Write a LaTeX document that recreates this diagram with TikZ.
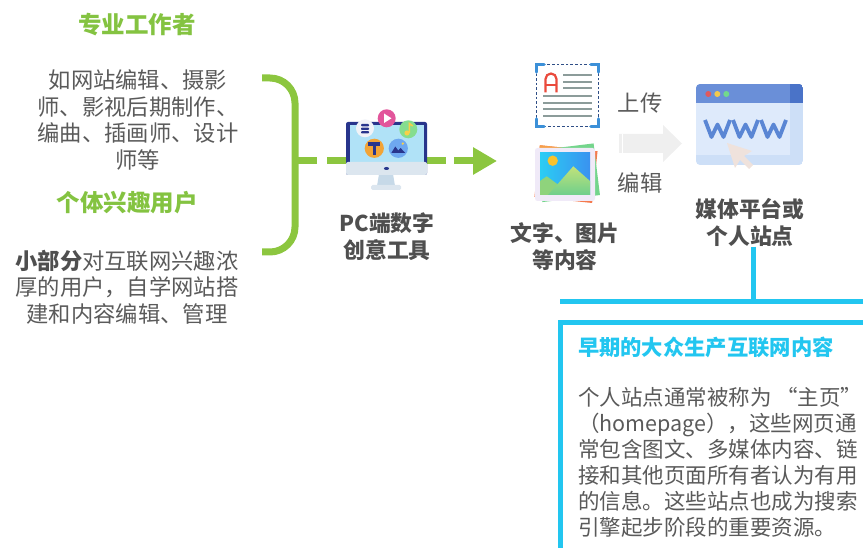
\documentclass[tikz,border=0pt]{standalone}
\usepackage{fontspec}
\setmainfont{Noto Sans CJK SC}
\usetikzlibrary{arrows.meta}

\definecolor{leafgreen}{HTML}{8CC63F}
\definecolor{headgreen}{HTML}{84C341}
\definecolor{bodygray}{HTML}{5A5A5A}
\definecolor{inkgray}{HTML}{4F4F4F}
\definecolor{skycyan}{HTML}{22C6F0}
\definecolor{navy}{HTML}{28358C}
\definecolor{screenblue}{HTML}{B0E2F7}
\definecolor{bezel}{HTML}{DCE6EF}
\definecolor{neckblue}{HTML}{C6D9E8}
\definecolor{docblue}{HTML}{2F4E86}
\definecolor{cornerblue}{HTML}{3C90D8}
\definecolor{linegray}{HTML}{8C9C9A}
\definecolor{letterred}{HTML}{EA4A3C}
\definecolor{arrowgray}{HTML}{EFEFEF}
\definecolor{barblue}{HTML}{6A8FD8}
\definecolor{bardark}{HTML}{4A73C8}
\definecolor{winbody}{HTML}{CDDFF7}
\definecolor{winpanel}{HTML}{DEEAFB}
\definecolor{wwwblue}{HTML}{5A86D4}
\definecolor{cursorpink}{HTML}{EFE2DC}
\definecolor{bubblewhite}{HTML}{F1F3F7}
\definecolor{bubblepink}{HTML}{E2559B}
\definecolor{bubblegreen}{HTML}{85DD8F}
\definecolor{noteyellow}{HTML}{F6D04A}
\definecolor{bubbleorange}{HTML}{F2A436}
\definecolor{bubbleblue}{HTML}{6EA8F0}
\definecolor{cardred}{HTML}{F47A4E}
\definecolor{cardorange}{HTML}{F6A04A}
\definecolor{cardgreen}{HTML}{74D58C}
\definecolor{cardframe}{HTML}{F0EAF8}
\definecolor{skytop}{HTML}{2BCDF4}
\definecolor{skyright}{HTML}{3A92F0}
\definecolor{sunyellow}{HTML}{F8C22E}
\definecolor{hillgreen}{HTML}{8FD37C}
\definecolor{hilltop}{HTML}{C2E27A}
\definecolor{hillfoot}{HTML}{6ECF8C}
\definecolor{dotred}{HTML}{E05A5E}
\definecolor{dotyellow}{HTML}{F2C94C}
\definecolor{dotgreen}{HTML}{72D98C}

\tikzset{
  every node/.style={inner sep=0pt, outer sep=0pt},
  greenhead/.style={font=\bfseries\fontsize{23.5}{28}\selectfont, text=headgreen},
  bodytext/.style={font=\fontsize{22.3}{26.7}\selectfont, text=bodygray, align=center},
  iconlabel/.style={font=\bfseries\fontsize{21.8}{27}\selectfont, text=inkgray, align=center},
  sidetext/.style={font=\fontsize{22.3}{26}\selectfont, text=bodygray},
  boxhead/.style={font=\bfseries\fontsize{21.3}{26}\selectfont, text=skycyan},
  boxbody/.style={font=\fontsize{21.5}{26}\selectfont, text=bodygray, align=left},
  bracketline/.style={draw=leafgreen, line width=7, rounded corners=25},
  flowdash/.style={draw=leafgreen, line width=7},
  cyanline/.style={draw=skycyan, line width=5},
}

\begin{document}
\begin{tikzpicture}[x=1pt, y=-1pt]
\useasboundingbox (0,0) rectangle (863,548);

% ---------- left column: two user groups ----------
\node[greenhead] (prohead) at (137,25) {专业工作者};
\node[bodytext] (probody) at (138,120)
  {如网站编辑、摄影\\师、影视后期制作、\\编曲、插画师、设计\\师等};
\node[greenhead] (hobbyhead) at (127,203) {个体兴趣用户};
\node[bodytext] (hobbybody) at (127,287)
  {{\bfseries\color{inkgray}小部分}对互联网兴趣浓\\厚的用户，自学网站搭\\建和内容编辑、管理};

% brace gathering both groups
\draw[bracketline] (262,78) -- (295,78) -- (295,252) -- (262,252);
\coordinate (nib) at (295,161);
\coordinate (tip) at (497,161);

% ---------- PC creative tools ----------
\node[minimum width=81, minimum height=70] (pc) at (386.5,155) {};
\draw[flowdash, dash pattern=on 22 off 10] (nib) -- (pc.west |- nib);
\draw[flowdash, dash pattern=on 19 off 8,
      -{Triangle[length=24pt, width=26pt]}] (pc.east |- nib) -- (tip);

% monitor
\fill[neckblue] (379,174) -- (393,174) -- (395,186) -- (377,186) -- cycle;
\fill[bezel, rounded corners=1.5] (371,185) rectangle (401,190);
\fill[navy, rounded corners=2] (346,122) rectangle (427,175);
\fill[screenblue] (349.5,125.5) rectangle (423.5,162);
\fill[bezel, rounded corners=2] (346,162) -- (427,162) -- (427,175) -- (346,175) -- cycle;
\fill[navy] (386.5,168.5) ellipse (2.6 and 1.5);
% app bubbles
\fill[bubblewhite] (365,128.3) circle (9);
\foreach \yy in {124,127.6,131.2}
  \fill[navy, rounded corners=0.8] (361,\yy) rectangle (369,\yy+2.3);
\fill[bubblepink] (386.7,118.3) circle (9);
\fill[white] (384,113.5) -- (384,123) -- (391.5,118.3) -- cycle;
\fill[bubblegreen] (408.3,129.3) circle (9);
\draw[noteyellow, line width=1.6] (409.3,133) -- (409.3,123.5) -- (412.8,126);
\fill[noteyellow] (407,133) circle (2.6);
\fill[bubbleorange] (374.3,148.3) circle (9.6);
\fill[navy] (368.3,142.3) rectangle (380.3,145.6);
\fill[navy] (372.7,145) rectangle (375.9,155.5);
\fill[bubbleblue] (398.3,148.3) circle (9.6);
\fill[navy] (391.3,153) -- (395.3,146.5) -- (398.3,150.5) -- (400.6,148) -- (405.3,153) -- cycle;
\fill[noteyellow] (402.8,143.6) circle (1.3);

\node[iconlabel] (pclabel) at (387,236.5) {PC端数字\\创意工具};

% ---------- content: text and pictures ----------
\node[minimum width=65, minimum height=65] (doc) at (567.5,95.5) {};
\fill[white] (535,63) rectangle (600,128);
\draw[docblue, line width=1.5, dash pattern=on 2.6 off 2] (536.5,64.5) rectangle (598.5,126.5);
\begin{scope}[cornerblue, line width=3.6, line cap=round]
  \draw (536.5,72) -- (536.5,64.5) -- (544,64.5);
  \draw (591,64.5) -- (598.5,64.5) -- (598.5,72);
  \draw (536.5,119) -- (536.5,126.5) -- (544,126.5);
  \draw (591,126.5) -- (598.5,126.5) -- (598.5,119);
\end{scope}
\draw[letterred, line width=2.2] (545.5,92.5) -- (545.5,79)
  arc[start angle=180, end angle=360, radius=5.5] -- (556.5,92.5);
\draw[letterred, line width=2.2] (545.5,85) -- (556.5,85);
\begin{scope}[linegray, line width=1.8]
  \foreach \yy in {75,81.7,88.3} \draw (563,\yy) -- (592,\yy);
  \foreach \yy in {96,102.7,109.3,116} \draw (543,\yy) -- (592,\yy);
\end{scope}

\node[minimum width=65, minimum height=60] (photo) at (566,174) {};
\fill[cardred, rotate around={-6:(565,174)}] (537,148) rectangle (595,200);
\fill[cardorange, rotate around={-6:(565,174)}] (537,148) rectangle (575,152);
\fill[cardgreen, rotate around={7:(566,173)}] (539,147) rectangle (597,199);
\fill[cardframe, rounded corners=2.5] (535,148) rectangle (595,201);
\shade[left color=skytop, right color=skyright] (540,153) rectangle (590,195);
\fill[sunyellow] (552.7,160.7) circle (5.2);
\fill[hillgreen] (540,195) -- (540,181) -- (546.7,176.3) -- (560,186) -- (560,195) -- cycle;
\shade[top color=hilltop, bottom color=hillfoot]
  (548,195) -- (573.3,166.3) -- (590,181) -- (590,195) -- cycle;

\node[iconlabel] (contentlabel) at (565,246.5) {文字、图片\\等内容};

% upload / edit arrow
\fill[arrowgray] (619,134) -- (663,134) -- (663,125) -- (682,143.5) -- (663,162)
  -- (663,153) -- (619,153) -- cycle;
\draw[white, line width=0.9] (622,134) -- (622,153);
\node[sidetext] (upload) at (640,103) {上传};
\node[sidetext] (editing) at (640,183) {编辑};

% ---------- media platform / personal site ----------
\node[minimum width=107, minimum height=81] (web) at (749.5,124.5) {};
\begin{scope}
  \clip[rounded corners=4] (696,84) rectangle (803,165);
  \fill[winbody] (696,84) rectangle (803,165);
  \fill[winpanel] (696,103) rectangle (790,155);
  \fill[barblue] (696,84) rectangle (803,103);
  \fill[bardark] (790,84) rectangle (803,103);
\end{scope}
\fill[dotred] (708.3,94) circle (3);
\fill[dotyellow] (717.3,94) circle (3);
\fill[dotgreen] (726.3,94) circle (3);
\foreach \xx in {705,733,761}
  \draw[wwwblue, line width=3.8, line join=round]
    (\xx,120) -- (\xx+6.5,137) -- (\xx+12.5,124.5) -- (\xx+18.5,137) -- (\xx+25,120);
\fill[cursorpink] (727,143) -- (752,151) -- (744,156) -- (753,165) -- (749,169)
  -- (740,160) -- (735,168) -- cycle;

\node[iconlabel] (sitelabel) at (750,222.5) {媒体平台或\\个人站点};

% ---------- note box ----------
\coordinate (junction) at (753,302);
\coordinate (busleft) at (560,302);
\coordinate (busright) at (863,302);
\draw[cyanline] (junction |- sitelabel.south) -- (junction);
\draw[cyanline] (busleft) -- (busright);
\node[draw=skycyan, line width=5, fill=white, anchor=north west,
      minimum width=340, minimum height=260] (notebox) at (560,323) {};
\node[boxhead, anchor=west] (notetitle) at (578,347) {早期的大众生产互联网内容};
\node[boxbody, anchor=west] (notebody) at (578,462)
  {个人站点通常被称为 “主页”\\（homepage），这些网页通\\常包含图文、多媒体内容、链\\接和其他页面所有者认为有用\\的信息。这些站点也成为搜索\\引擎起步阶段的重要资源。};

\end{tikzpicture}
\end{document}
